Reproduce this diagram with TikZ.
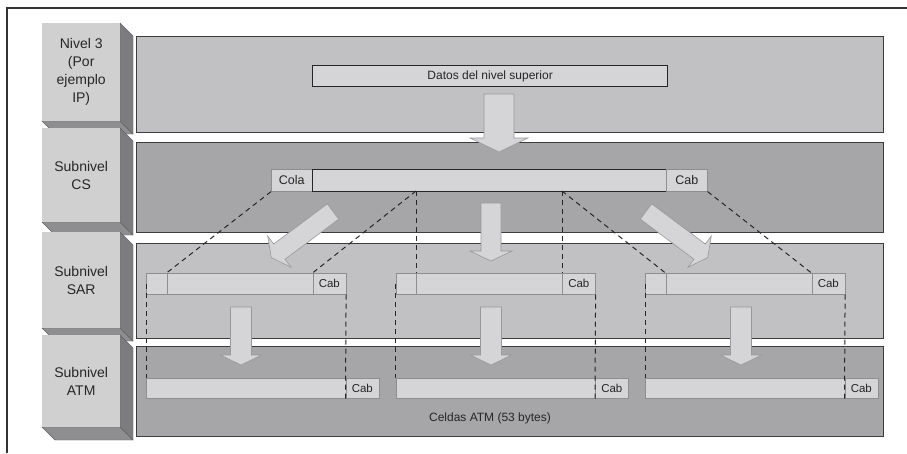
\documentclass[tikz,border=0pt]{standalone}
\usepackage{fontspec}
\setmainfont{Liberation Sans}
\usetikzlibrary{calc}
\definecolor{panelL}{HTML}{C1C1C3}
\definecolor{panelD}{HTML}{A6A6A9}
\definecolor{barF}{HTML}{D5D5D7}
\definecolor{edgeD}{HTML}{3C3C3C}
\definecolor{edgeM}{HTML}{8E8E90}
\definecolor{boxFront}{HTML}{D0D0D1}
\definecolor{boxSide}{HTML}{7C7C7E}
\definecolor{boxBottom}{HTML}{8E8E90}
\definecolor{inkT}{HTML}{262626}
% block arrow: x, y (start of shaft), rotation, shaft width, head width, shaft length, head length
\newcommand\fatarrow[7]{%
  \draw[fatstyle, shift={(#1,#2)}, rotate=#3]
    (-#4/2,0) -- (-#4/2,#6) -- (-#5/2,#6) -- (0,#6+#7) -- (#5/2,#6) -- (#4/2,#6) -- (#4/2,0) -- cycle;}
\begin{document}
\begin{tikzpicture}[x=1pt,y=-1pt,
  panel/.style={rectangle, draw=edgeD, line width=1.2pt, inner sep=0pt, anchor=north west},
  lbox/.style={rectangle, fill=boxFront, inner sep=0pt, anchor=north west, align=center,
    text=inkT, font=\fontsize{14}{18}\selectfont},
  cell/.style={rectangle, fill=barF, draw=edgeM, line width=0.6pt, inner sep=0pt,
    anchor=north west, text=inkT, font=\fontsize{11.5}{13}\selectfont},
  bigcell/.style={cell, font=\fontsize{12.5}{14}\selectfont},
  strongbar/.style={rectangle, fill=barF, draw=black!85, line width=1.3pt, inner sep=0pt,
    anchor=north west, text=inkT, font=\fontsize{12}{14}\selectfont},
  fatstyle/.style={fill=barF, draw=edgeM!90, line width=0.6pt, line join=miter},
  dashline/.style={draw=black!85, line width=1pt, dash pattern=on 5pt off 4pt},
  frameline/.style={draw=black!80, line width=1.5pt}]
\useasboundingbox (0,0) rectangle (907,453);
\fill[white] (0,0) rectangle (907,453);

% outer frame
\draw[frameline] (7,453) -- (7,8) -- (907,8);

% layer panels
\node[panel, fill=panelL, minimum width=747, minimum height=96] (p1) at (136,36) {};
\node[panel, fill=panelD, minimum width=747, minimum height=90] (p2) at (136,142) {};
\node[panel, fill=panelL, minimum width=747, minimum height=95] (p3) at (136,243) {};
\node[panel, fill=panelD, minimum width=747, minimum height=90] (p4) at (136,346) {};

% layer name blocks (front face plus extruded sides)
\foreach \nm/\yy/\hh/\txt in {l3/23/98/{Nivel 3\\(Por\\ejemplo\\IP)},
                              lcs/128/94/{Subnivel\\CS},
                              lsar/232/96/{Subnivel\\SAR},
                              latm/335/92/{Subnivel\\ATM}} {
  \coordinate (\nm-nw) at (42,\yy);
  \coordinate (\nm-ne) at (120,\yy);
  \coordinate (\nm-se) at (120,\yy+\hh);
  \coordinate (\nm-sw) at (42,\yy+\hh);
  \fill[boxBottom, draw=boxSide!80!black, line width=0.4pt]
    (\nm-sw) -- (\nm-se) -- ($(\nm-se)+(13,13)$) -- ($(\nm-sw)+(13,13)$) -- cycle;
  \fill[boxSide, draw=boxSide!80!black, line width=0.4pt]
    (\nm-ne) -- ($(\nm-ne)+(13,13)$) -- ($(\nm-se)+(13,13)$) -- (\nm-se) -- cycle;
  \node[lbox, minimum width=78, minimum height=\hh] (\nm) at (\nm-nw) {\txt};
}

% upper layer data
\node[strongbar, minimum width=355, minimum height=21] (datos) at (312,65) {Datos del nivel superior};

% CS sublayer: trailer, payload, header
\node[bigcell, minimum width=41, minimum height=22] (cola) at (271,169) {Cola};
\node[strongbar, minimum width=354, minimum height=22] (csbar) at (312,169) {};
\node[bigcell, minimum width=41, minimum height=22] (cscab) at (666,169) {Cab};

% SAR segments and ATM cells
\foreach \i/\x in {1/146,2/395.5,3/645} {
  \node[cell, minimum width=20.5, minimum height=21] (sarL\i) at (\x,273) {};
  \node[cell, minimum width=146, minimum height=21] (sarM\i) at (\x+20.5,273) {};
  \node[cell, minimum width=33, minimum height=21] (sarC\i) at (\x+166.5,273) {Cab};
  \node[cell, minimum width=199.5, minimum height=20] (atmM\i) at (\x,378) {};
  \node[cell, minimum width=33, minimum height=20] (atmC\i) at (\x+199.5,378) {Cab};
}

\node[text=inkT, font=\fontsize{12}{14}\selectfont] (celdas) at (490,418) {Celdas ATM (53 bytes)};

% block arrows
\fatarrow{499}{94}{0}{30}{58}{44}{14}
\fatarrow{491}{203}{0}{20}{42}{48}{10}
\fatarrow{646}{211.5}{53.2}{19}{39}{67}{10}
\fatarrow{333}{211.5}{-53.2}{19}{39}{67}{10}
\foreach \cx in {241,491,741} {
  \fatarrow{\cx}{307}{0}{21}{41}{48}{10}
}

% segmentation guides
\coordinate (cut1) at (416,191);
\coordinate (cut2) at (562,191);
\draw[dashline] (cola.south west) -- (sarM1.north west);
\draw[dashline] (cut1) -- (sarC1.north west);
\draw[dashline] (cut1) -- (sarM2.north west);
\draw[dashline] (cut2) -- (sarC2.north west);
\draw[dashline] (cut2) -- (sarM3.north west);
\draw[dashline] (cscab.south east) -- (sarC3.north west);
\foreach \i in {1,2,3} {
  \draw[dashline] (sarL\i.west) -- (atmM\i.north west);
  \draw[dashline] (sarC\i.south east) -- (atmC\i.south west);
}
\end{tikzpicture}
\end{document}
